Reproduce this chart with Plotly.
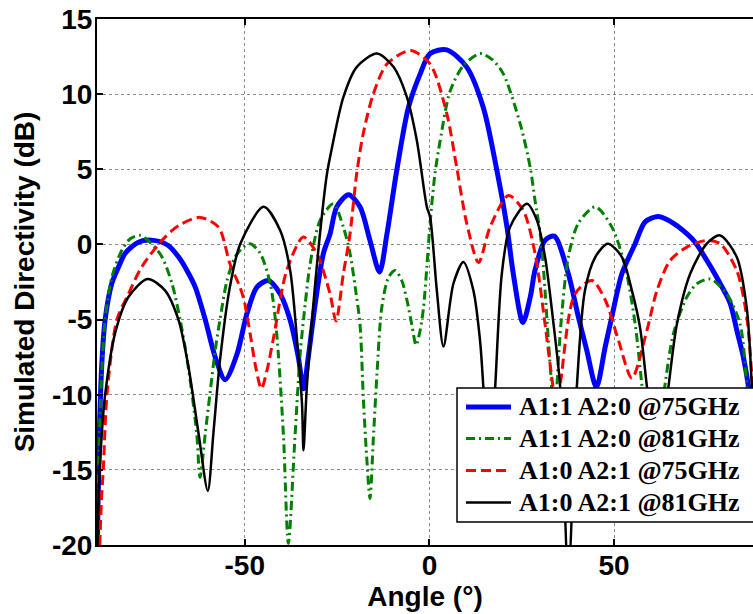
import plotly.graph_objects as go

# ---- data (angle in degrees, directivity in dB) ----
blue_x = [-90, -89.3, -88.6, -87.8, -86.0, -84.0, -82.4, -78.8, -74.7, -70.7, -67.9, -65.5, -63.4, -60.7, -58.0,
          -55.3, -52.1, -49.4, -46.7, -43.6, -40.4, -37.7, -35.5, -34.1, -32.8, -30.9, -28.7, -26.9, -25.1, -21.9,
          -18.8, -16.1, -13.5, -11.5, -8.8, -5.7, -2.5, 0.2, 4.7, 10.1, 14.6, 18.2, 21.0, 22.7, 25.3, 27.3, 28.6,
          31.3, 33.8, 37.6, 40.3, 42.6, 45.2, 47.6, 49.4, 52.1, 55.7, 58.4, 62.0, 66.1, 71.5, 75.1, 78.7, 81.4,
          83.2, 85.0, 86.4, 88.5, 90]
blue_y = [-21, -12, -7.5, -5, -2.6, -1.4, -0.6, 0.15, 0.27, -0.07, -0.84, -1.8, -2.84, -5, -7.5,
          -9.0, -7.3, -4.6, -2.84, -2.4, -3.3, -5.05, -7.5, -9.6, -7.5, -3.9, -0.6, 0.7, 2.5, 3.3,
          2.5, 0.27, -1.84, 0.7, 5.0, 9.1, 11.35, 12.7, 12.95, 11.8, 9.1, 5.0, 1.15, -1.95, -5.2, -3.5, -1.7,
          0.27, 0.55, -1.95, -4.8, -7.05, -9.5, -6.8, -4.8, -1.95, 0.05, 1.5, 1.86, 1.4, 0.27, -1.06, -2.6, -3.9,
          -5.7, -7.5, -9.5, -14, -20]

green_x = [-90, -89.4, -88.6, -87.8, -86.0, -83.3, -81.0, -78.3, -75.2, -72.4, -69.7, -67.5, -65.7, -64.3, -63.0,
           -62.1, -60.7, -59.4, -58.0, -56.7, -54.8, -52.6, -50.4, -48.5, -45.8, -43.1, -41.8, -40.9, -39.5, -38.2,
           -36.4, -35.0, -33.6, -32.3, -29.6, -26.0, -23.3, -21.5, -20.1, -18.8, -17.9, -17.0, -16.1, -15.2, -14.2,
           -12.9, -11.1, -9.3, -7.5, -6.1, -4.8, -3.6, -2.5, -1.6, -0.7, 0.2, 1.5, 2.9, 5.6, 9.2, 13.7, 17.0, 20.0,
           24.6, 27.3, 28.6, 30.0, 30.9, 32.2, 33.2, 33.8, 34.4, 35.6, 37.6, 40.3, 44.9, 49.4, 53.0, 55.7, 57.5,
           60.6, 63.8, 66.1, 69.7, 72.5, 76.0, 80.5, 84.1, 85.9, 87.5, 89.0]
green_y = [-21, -13, -8, -5, -2.2, -0.4, 0.38, 0.6, 0.05, -0.84, -2.6, -5, -7.5, -9.9, -12.6,
           -15.5, -12.6, -9.9, -7.05, -5, -2.4, -0.84, -0.18, 0.05, -0.6, -2.6, -4.8, -7.3, -12.8, -19.9,
           -12.8, -7.3, -3.9, -1.3, 1.6, 2.7, 1.15, -0.6, -2.84, -5.3, -10.2, -14.1, -16.9, -13.0, -8.6,
           -4.2, -2.2, -1.73, -2.4, -3.7, -5.3, -6.7, -5.7, -4.2, -1.5, 1.5, 4.7, 6.9, 10.2, 11.9, 12.7, 12.3, 11.35,
           8.0, 5.1, 2.9, 0.7, -1.7, -6.4, -10, -15, -10, -5.3, -0.84, 1.4, 2.5, 1.15, -1.5, -5.3, -9.3,
           -16, -9.3, -5.9, -3.5, -2.6, -2.3, -3.3, -5.3, -9.3, -14, -20]

red_x = [-89.5, -88.8, -88.3, -87.3, -84.6, -81.5, -77.9, -72.4, -67.9, -62.1, -57.1, -54.0, -51.2, -50.0, -48.5,
         -47.0, -45.5, -44.0, -42.2, -38.6, -34.1, -30.5, -26.9, -25.3, -23.3, -21.5, -19.7, -17.9, -15.2, -11.5,
         -5.2, 0.2, 4.7, 7.4, 10.1, 13.3, 16.4, 21.4, 25.4, 28.6, 31.3, 33.1, 34.5, 35.6, 39.4, 44.0, 47.6, 51.2,
         54.8, 58.9, 61.6, 65.2, 69.7, 75.1, 78.7, 83.2, 85.9, 87.3, 89.0]
red_y = [-22, -17, -15, -10, -5, -3.3, -1.5, 0.27, 1.26, 1.8, 1.15, -1.3, -2.9, -3.9, -6.0,
         -8.2, -9.6, -8.4, -6.2, -1.7, 0.49, -0.6, -3.3, -5.1, -1.95, 0.7, 4.7, 7.4, 10.0, 12.0,
         12.9, 12.0, 8.7, 5.1, 1.4, -1.2, 1.15, 3.26, 2.26, -0.6, -5.3, -8.8, -11, -9.0, -3.3, -2.4, -3.7, -6.4,
         -8.9, -5.7, -3.06, -1.06, -0.18, 0.27, 0.05, -1.73, -4.8, -8.8, -16]

black_x = [-90, -89.6, -88.7, -87.8, -85.1, -81.5, -76.3, -71.6, -67.9, -65.2, -62.5, -60.0, -58.5, -56.7, -54.0,
           -51.2, -44.9, -40.4, -37.7, -35.9, -34.5, -34.1, -33.2, -31.8, -30.0, -27.8, -26.5, -23.3, -19.7, -14.2,
           -9.7, -6.1, -3.4, -0.7, 0.2, 2.0, 3.8, 6.5, 9.2, 11.9, 13.7, 14.6, 16.2, 17.8, 19.6, 21.8, 26.4, 29.1,
           31.3, 33.6, 35.4, 37.6, 39.9, 42.1, 44.9, 48.3, 52.1, 54.8, 57.0, 58.9, 61.8, 64.7, 67.0, 70.6, 75.1,
           78.7, 83.2, 85.9, 87.3, 88.5]
black_y = [-22, -17, -12.6, -10, -5.9, -3.5, -2.3, -3.06, -5.05, -8.2, -12.6, -16.4, -12.6, -7.7, -2.8,
           0.05, 2.5, 0.93, -1.73, -6.2, -10.6, -13.7, -9.5, -5.05, -0.18, 4.6, 6.3, 9.8, 11.8, 12.7,
           11.8, 9.8, 6.9, 2.5, 1.8, -3.06, -6.8, -2.6, -1.17, -3.06, -6.4, -9.5, -16, -9.5, -1.95, 1.15, 2.7, 1.6,
           -0.84, -5.3, -9.5, -22, -9.5, -3.06, -0.84, 0.05, -0.84, -3.06, -5.5, -9.5, -15, -9.5, -5.3, -1.95, 0.05,
           0.6, -0.84, -4.2, -9.5, -16]

series_names = ["A1:1 A2:0 @75GHz", "A1:1 A2:0 @81GHz", "A1:0 A2:1 @75GHz", "A1:0 A2:1 @81GHz"]
x_ticks = [-50, 0, 50]
x_tick_text = ["-50", "0", "50"]
y_ticks = [-20, -15, -10, -5, 0, 5, 10, 15]
y_tick_text = ["-20", "-15", "-10", "-5", "0", "5", "10", "15"]

# ---- styles ----
styles = [
    dict(color="#0000FF", width=5, dash="solid"),
    dict(color="#008000", width=3, dash="9px,4px,2px,4px"),
    dict(color="#FF0000", width=3, dash="10px,5px"),
    dict(color="#000000", width=2.5, dash="solid"),
]
xs = [blue_x, green_x, red_x, black_x]
ys = [blue_y, green_y, red_y, black_y]

fig = go.Figure()
for name, x, y, st in zip(series_names, xs, ys, styles):
    fig.add_trace(go.Scatter(x=x, y=y, mode="lines", name=name, showlegend=False,
                             line=dict(shape="spline", smoothing=0.8, **st)))

# ---- legend box drawn in paper coordinates (lower right, clipped by the window edge) ----
leg_x0, leg_x1, leg_y0, leg_y1 = 0.5488, 1.03, 0.0437, 0.2985
sample_x0, sample_x1, text_x = 0.5625, 0.6311, 0.6402
row_y = [0.2624, 0.2025, 0.1416, 0.0808]
shapes = [dict(type="rect", xref="paper", yref="paper", x0=leg_x0, x1=leg_x1, y0=leg_y0, y1=leg_y1,
               line=dict(color="black", width=1.5), fillcolor="white", layer="above")]
annotations = []
legend_font = dict(family="Liberation Serif, Times New Roman, serif", size=26, color="black", weight="bold")
for name, st, ry in zip(series_names, styles, row_y):
    shapes.append(dict(type="line", xref="paper", yref="paper", x0=sample_x0, x1=sample_x1, y0=ry, y1=ry,
                       line=dict(color=st["color"], width=st["width"], dash=st["dash"]), layer="above"))
    annotations.append(dict(text=name, xref="paper", yref="paper", x=text_x, y=ry, xanchor="left",
                            yanchor="middle", showarrow=False, font=legend_font))

tick_font = dict(family="Liberation Sans, Arial, sans-serif", size=28, color="black", weight="bold")
fig.update_layout(
    width=753, height=614,
    margin=dict(l=97, r=0, t=19, b=69),
    paper_bgcolor="white", plot_bgcolor="white",
    showlegend=False,
    shapes=shapes, annotations=annotations,
    xaxis=dict(range=[-90, 87.6], tickvals=x_ticks, ticktext=x_tick_text,
               showgrid=True, gridcolor="#8a8a8a", griddash="dot", gridwidth=1,
               showline=True, linecolor="black", linewidth=2, mirror="ticks",
               ticks="inside", ticklen=6, tickwidth=1.5, tickcolor="black",
               zeroline=False, tickfont=tick_font, ticklabelstandoff=-6,
               title=dict(text="Angle (°)", font=dict(family="Liberation Sans, Arial, sans-serif", size=28,
                                                       color="black", weight="bold"), standoff=4)),
    yaxis=dict(range=[-20, 15], tickvals=y_ticks, ticktext=y_tick_text,
               showgrid=True, gridcolor="#8a8a8a", griddash="dot", gridwidth=1,
               showline=True, linecolor="black", linewidth=2, mirror=False,
               ticks="inside", ticklen=6, tickwidth=1.5, tickcolor="black",
               zeroline=False, tickfont=tick_font, ticklabelstandoff=-3,
               title=dict(text="Simulated Directivity (dB)", font=dict(family="Liberation Sans, Arial, sans-serif",
                                                                       size=28, color="black", weight="bold"),
                          standoff=9)),
)

fig.write_html("out.html")
